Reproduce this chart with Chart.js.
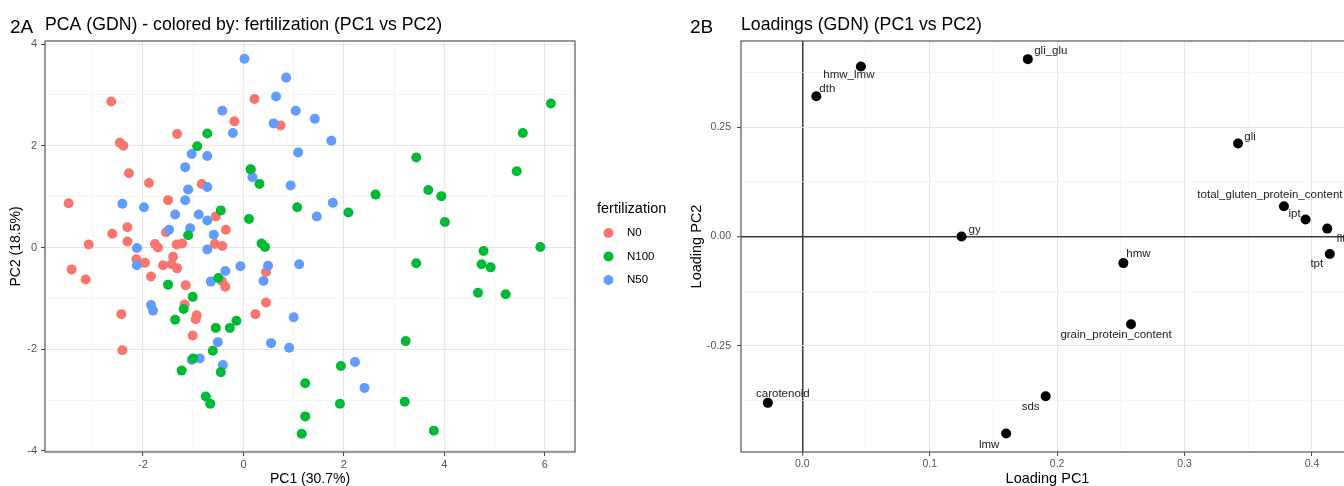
<!DOCTYPE html>
<html>
<head>
  <meta charset="utf-8">
  <title>PCA (GDN) and Loadings</title>
  <script src="https://cdn.jsdelivr.net/npm/chart.js"></script>
  <style>
    html, body { margin: 0; padding: 0; background: #fff; overflow: hidden; width: 1344px; height: 486px; }
    #pca { position: absolute; left: 0; top: 0; }
    #loadings { position: absolute; left: 680px; top: 0; }
  </style>
</head>
<body>
  <canvas id="pca" width="680" height="486"></canvas>
  <canvas id="loadings" width="690" height="486"></canvas>

  <script>
    // ---- 2A: PCA scores, by fertilization ----
    const n0_pc1 = [-2.63, -2.46, -2.39, -2.28, -1.88, -3.48, -1.50, -1.32, -0.83, -0.18, 0.22, 0.74, 0.15,
      -2.31, -2.61, -2.31, -3.08, -1.76, -1.70, -1.54, -1.33, -1.22, -0.55, -0.35, -0.57, -0.42,
      -3.42, -3.14, -2.13, -1.96, -1.60, -1.40, -1.43, -1.32, -1.84, -1.15, -2.43, -2.41, -1.17,
      -0.93, -0.95, -1.01, -0.43, -0.36, 0.45, 0.45, 0.24];
    const n0_pc2 = [2.87, 2.06, 2.00, 1.46, 1.27, 0.87, 0.93, 2.23, 1.25, 2.48, 2.92, 2.40, 1.53,
      0.40, 0.27, 0.12, 0.06, 0.07, 0.00, 0.30, 0.06, 0.08, 0.61, 0.35, 0.07, 0.03,
      -0.43, -0.63, -0.23, -0.30, -0.35, -0.18, -0.33, -0.41, -0.57, -0.74, -1.31, -2.02, -1.12,
      -1.33, -1.41, -1.73, -0.66, -0.77, -0.48, -1.08, -1.31];

    const n100_pc1 = [-0.72, -0.92, 0.14, 0.32, 1.07, -0.45, 0.11, -1.10, 0.36, 0.43,
      6.12, 5.56, 3.44, 5.44, 3.68, 3.94, 2.63, 2.09, 4.01, 4.78, 5.91, 3.44, 4.74, 4.92, 4.67, 5.22,
      3.23, 1.94, 1.23, 1.92, 3.21, 1.23, 1.16, 3.79,
      -1.50, -0.50, -1.01, -1.19, -1.36, -0.14, -0.27, -0.55, -0.61, -1.00, -1.23, -0.45, -0.75, -0.66];
    const n100_pc2 = [2.24, 1.99, 1.54, 1.25, 0.79, 0.73, 0.56, 0.24, 0.08, 0.01,
      2.83, 2.25, 1.77, 1.50, 1.13, 1.01, 1.04, 0.69, 0.50, -0.07, 0.01, -0.31, -0.33, -0.39, -0.89, -0.92,
      -1.84, -2.33, -2.67, -3.07, -3.03, -3.32, -3.66, -3.60,
      -0.73, -0.60, -0.97, -1.21, -1.42, -1.44, -1.58, -1.58, -2.03, -2.18, -2.42, -2.45, -2.93, -3.07];

    const n50_pc1 = [0.02, 0.85, 0.65, 1.04, -0.42, -0.21, 0.60, 1.09, -1.03, -0.72, -1.16, -1.10, -0.72,
      -1.16, 0.18, 0.94, -2.41, -1.98, -1.36, -0.89, -0.72, -1.48, -1.06, -0.59, -2.12, -0.72,
      1.42, 1.75, 1.78, 1.46, 2.22, 2.41, 1.11, -2.12, -1.84, -1.80, -0.36, -0.06, -0.65, 0.49,
      0.40, 1.00, -0.51, 0.55, 0.91, -0.87, -1.03, -0.41];
    const n50_pc2 = [3.71, 3.34, 2.97, 2.69, 2.69, 2.25, 2.44, 1.87, 1.84, 1.80, 1.58, 1.14, 1.19,
      0.93, 1.38, 1.22, 0.86, 0.79, 0.65, 0.65, 0.53, 0.35, 0.38, 0.25, -0.01, -0.04,
      2.53, 2.10, 0.88, 0.61, -2.25, -2.76, -0.33, -0.35, -1.13, -1.24, -0.46, -0.37, -0.67, -0.36,
      -0.66, -1.37, -1.86, -1.88, -1.97, -2.18, -2.21, -2.31];

    const groupNames = ['N0', 'N100', 'N50'];
    const groupColors = ['#F8766D', '#00BA38', '#619CFF'];

    // ---- 2B: loadings ----
    const loadingNames = ['dth', 'hmw_lmw', 'gli_glu', 'gli', 'total_gluten_protein_content', 'ipt', 'fltp',
      'tpt', 'gy', 'hmw', 'grain_protein_content', 'sds', 'lmw', 'carotenoid'];
    const loadingPC1 = [0.011, 0.046, 0.177, 0.342, 0.378, 0.395, 0.412, 0.414, 0.125, 0.252, 0.258, 0.191, 0.160, -0.027];
    const loadingPC2 = [0.321, 0.389, 0.406, 0.213, 0.069, 0.039, 0.018, -0.040, 0.000, -0.061, -0.201, -0.366, -0.451, -0.381];
    // where each label sits relative to its point (px), like the repel layout
    const labelNudge = [[11, -7], [-12, 8], [23, -8], [12, -7], [-14, -11], [-11, -6], [17, 10],
      [-13, 10], [13, -7], [15, -9], [-15, 11], [-15, 11], [-17, 11], [15, -9]];

    const FONT = '"Liberation Sans", Arial, Helvetica, sans-serif';
    Chart.defaults.font.family = FONT;

    function xy(a, b) { return a.map((v, i) => ({ x: v, y: b[i] })); }
    function near(v, step) { return Math.abs(v / step - Math.round(v / step)) < 1e-6; }

    // grid: major + minor lines, tick marks on major only
    function gridFor(step, zeroLine) {
      return {
        color: c => {
          if (!c.tick) return '#E6E6E6';
          if (zeroLine && Math.abs(c.tick.value) < 1e-9) return '#3a3a3a';
          return near(c.tick.value, step) ? '#E6E6E6' : '#F1F1F1';
        },
        lineWidth: c => {
          if (!c.tick) return 1;
          if (zeroLine && Math.abs(c.tick.value) < 1e-9) return 1.5;
          return near(c.tick.value, step) ? 1.1 : 0.7;
        },
        tickColor: c => (c.tick && near(c.tick.value, step)) ? '#444' : 'rgba(0,0,0,0)',
        tickWidth: 1,
        tickLength: 4,
        drawTicks: true,
      };
    }

    const panelTitle = {
      id: 'panelTitle',
      afterDraw(chart, args, o) {
        const ctx = chart.ctx;
        ctx.save();
        ctx.fillStyle = '#000';
        ctx.textBaseline = 'alphabetic';
        ctx.textAlign = 'left';
        ctx.font = '19px ' + FONT;
        ctx.fillText(o.tag, o.tagX, 33);
        ctx.font = '17.7px ' + FONT;
        ctx.fillText(o.text, o.textX, 30);
        ctx.restore();
      }
    };

    const panelFrame = {
      id: 'panelFrame',
      afterDraw(chart) {
        const a = chart.chartArea, ctx = chart.ctx;
        ctx.save();
        ctx.strokeStyle = '#555';
        ctx.lineWidth = 1.2;
        ctx.strokeRect(a.left, a.top, a.right - a.left, a.bottom - a.top);
        ctx.restore();
      }
    };

    const sideLegend = {
      id: 'sideLegend',
      afterDraw(chart) {
        const ctx = chart.ctx;
        ctx.save();
        ctx.fillStyle = '#000';
        ctx.textBaseline = 'middle';
        ctx.textAlign = 'left';
        ctx.font = '14.5px ' + FONT;
        ctx.fillText('fertilization', 597, 209);
        ctx.font = '11.5px ' + FONT;
        groupNames.forEach((name, i) => {
          const y = 233 + i * 23.5;
          ctx.fillStyle = groupColors[i];
          ctx.beginPath();
          ctx.arc(608.5, y, 5, 0, Math.PI * 2);
          ctx.fill();
          ctx.fillStyle = '#000';
          ctx.fillText(name, 627, y);
        });
        ctx.restore();
      }
    };

    const pointLabels = {
      id: 'pointLabels',
      afterDatasetsDraw(chart) {
        const ctx = chart.ctx;
        const meta = chart.getDatasetMeta(0);
        ctx.save();
        ctx.font = '11.5px ' + FONT;
        ctx.fillStyle = '#222';
        ctx.textAlign = 'center';
        ctx.textBaseline = 'middle';
        meta.data.forEach((pt, i) => {
          const d = labelNudge[i];
          ctx.fillText(loadingNames[i], pt.x + d[0], pt.y + d[1]);
        });
        ctx.restore();
      }
    };

    const tickFont = { size: 11 };

    new Chart(document.getElementById('pca'), {
      type: 'scatter',
      data: {
        datasets: [
          { label: 'N0', data: xy(n0_pc1, n0_pc2), backgroundColor: groupColors[0], order: 3 },
          { label: 'N100', data: xy(n100_pc1, n100_pc2), backgroundColor: groupColors[1], order: 1 },
          { label: 'N50', data: xy(n50_pc1, n50_pc2), backgroundColor: groupColors[2], order: 2 },
        ]
      },
      options: {
        responsive: false,
        animation: false,
        events: [],
        elements: { point: { radius: 5, borderWidth: 0, hoverRadius: 5 } },
        layout: { padding: { left: 0, top: 41, right: 105, bottom: 0 } },
        scales: {
          x: {
            type: 'linear', min: -3.95, max: 6.6,
            grid: gridFor(2, false),
            border: { display: false },
            afterFit: s => { s.height = 34; },
            ticks: {
              stepSize: 1, includeBounds: false, autoSkip: false, maxRotation: 0,
              padding: 2, color: '#555', font: tickFont,
              callback: v => near(v, 2) ? String(Math.round(v)) : ''
            },
            title: { display: true, text: 'PC1 (30.7%)', color: '#000', font: { size: 14, lineHeight: 1 }, padding: { top: 0, bottom: 0 } }
          },
          y: {
            type: 'linear', min: -4.02, max: 4.06,
            grid: gridFor(2, false),
            border: { display: false },
            afterFit: s => { s.width = 45; },
            ticks: {
              stepSize: 1, includeBounds: false, autoSkip: false,
              padding: 4, color: '#555', font: tickFont,
              callback: v => near(v, 2) ? String(Math.round(v)) : ''
            },
            title: { display: true, text: 'PC2 (18.5%)', color: '#000', font: { size: 14, lineHeight: 1 }, padding: { top: 9.5, bottom: 0 } }
          }
        },
        plugins: {
          legend: { display: false },
          tooltip: { enabled: false },
          panelTitle: { tag: '2A', text: 'PCA (GDN) - colored by: fertilization (PC1 vs PC2)', tagX: 10, textX: 45 }
        }
      },
      plugins: [panelTitle, panelFrame, sideLegend]
    });

    new Chart(document.getElementById('loadings'), {
      type: 'scatter',
      data: {
        datasets: [
          { label: 'loadings', data: xy(loadingPC1, loadingPC2), backgroundColor: '#000' }
        ]
      },
      options: {
        responsive: false,
        animation: false,
        events: [],
        elements: { point: { radius: 5, borderWidth: 0, hoverRadius: 5 } },
        layout: { padding: { left: 0, top: 41, right: 16, bottom: 0 } },
        scales: {
          x: {
            type: 'linear', min: -0.0481, max: 0.433,
            grid: gridFor(0.1, true),
            border: { display: false },
            afterFit: s => { s.height = 34; },
            ticks: {
              stepSize: 0.05, includeBounds: false, autoSkip: false, maxRotation: 0,
              padding: 2, color: '#555', font: { size: 10.5 },
              callback: v => near(v, 0.1) ? v.toFixed(1) : ''
            },
            title: { display: true, text: 'Loading PC1', color: '#000', font: { size: 14.5, lineHeight: 1 }, padding: { top: 0, bottom: 0 } }
          },
          y: {
            type: 'linear', min: -0.4935, max: 0.4475,
            grid: gridFor(0.25, true),
            border: { display: false },
            afterFit: s => { s.width = 61; },
            ticks: {
              stepSize: 0.125, includeBounds: false, autoSkip: false,
              padding: 6, color: '#555', font: { size: 10.5 },
              callback: v => near(v, 0.25) ? v.toFixed(2) : ''
            },
            title: { display: true, text: 'Loading PC2', color: '#000', font: { size: 14.5, lineHeight: 1 }, padding: { top: 10, bottom: 0 } }
          }
        },
        plugins: {
          legend: { display: false },
          tooltip: { enabled: false },
          panelTitle: { tag: '2B', text: 'Loadings (GDN) (PC1 vs PC2)', tagX: 10, textX: 61 }
        }
      },
      plugins: [panelTitle, panelFrame, pointLabels]
    });
  </script>
</body>
</html>
